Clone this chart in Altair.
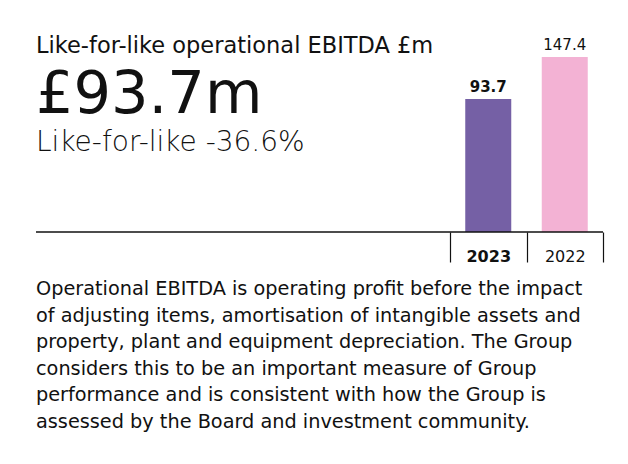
import altair as alt
import pandas as pd

years = ["2023", "2022"]
values = [93.7, 147.4]
bar_colors = ["#7560a5", "#f3b2d4"]

title_text = "Like-for-like operational EBITDA £m"
headline_text = "£93.7m"
sub_text = "Like-for-like -36.6%"
body_lines = [
    "Operational EBITDA is operating profit before the impact",
    "of adjusting items, amortisation of intangible assets and",
    "property, plant and equipment depreciation. The Group",
    "considers this to be an important measure of Group",
    "performance and is consistent with how the Group is",
    "assessed by the Board and investment community.",
]

FONT = "DejaVu Sans"
INK = "#111111"
W, H = 567, 224

df = pd.DataFrame({"year": years, "value": values, "label": [f"{v:.1f}" for v in values]})

xscale = alt.Scale(domain=years, range=[414, 567], paddingInner=0, paddingOuter=0)
yscale = alt.Scale(domain=[-76, 210], zero=False, nice=False)

base = alt.Chart(df)

bars = base.mark_bar(width=46).encode(
    x=alt.X("year:N", scale=xscale, sort=years,
            axis=alt.Axis(title=None, domain=False, ticks=True, tickBand="extent",
                          tickSize=30, tickColor=INK, tickWidth=1.2, grid=False,
                          labelFont=FONT, labelFontSize=16, labelColor=INK,
                          labelAngle=0, labelBaseline="alphabetic", labelPadding=-1,
                          labelFontWeight=alt.expr("datum.value === '2023' ? 'bold' : 'normal'"))),
    y=alt.Y("value:Q", scale=yscale, axis=None),
    y2=alt.datum(-76),
    color=alt.Color("year:N", scale=alt.Scale(domain=years, range=bar_colors), legend=None),
)

labels = base.mark_text(font=FONT, fontSize=15, color=INK, baseline="alphabetic", dy=-7,
                        fontWeight=alt.expr("datum.year === '2023' ? 'bold' : 'normal'")).encode(
    x=alt.X("year:N", scale=xscale, sort=years),
    y=alt.Y("value:Q", scale=yscale),
    text="label:N",
)

baseline = alt.Chart(pd.DataFrame({"k": [0]})).mark_rule(color=INK, strokeWidth=1.3).encode(
    x=alt.value(0), x2=alt.value(W), y=alt.value(H)
)

def txt(text, y, size, weight="normal"):
    return alt.Chart(pd.DataFrame({"t": [text]})).mark_text(
        font=FONT, fontSize=size, fontWeight=weight, color=INK,
        align="left", baseline="alphabetic"
    ).encode(x=alt.value(0), y=alt.value(y), text="t:N")

title = txt(title_text, 45, 22.5)
headline = txt(headline_text, 105, 59)
sub = txt(sub_text, 143, 28, weight=200)
body = alt.Chart(pd.DataFrame({"t": [body_lines]})).mark_text(
    font=FONT, fontSize=19.3, color=INK, align="left", baseline="alphabetic", lineHeight=26.6
).encode(x=alt.value(0), y=alt.value(287), text="t")

chart = alt.layer(bars, labels, baseline, title, headline, sub, body).properties(
    width=W, height=H,
    autosize=alt.AutoSizeParams(type="none"),
    padding={"left": 28, "top": 0, "right": 17, "bottom": 224},
    background="white",
).configure_view(stroke=None)

chart.save("out.html", embed_options={"renderer": "svg", "actions": False})
